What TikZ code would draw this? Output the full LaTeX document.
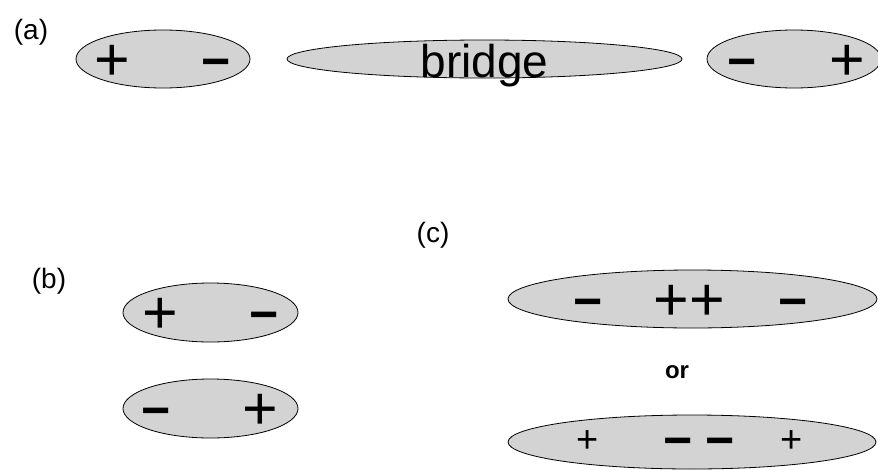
\documentclass[tikz,border=0pt]{standalone}
\usepackage{fontspec}
\setmainfont{Liberation Sans}
\usepackage{tikz}
\usetikzlibrary{shapes.geometric,calc}
\definecolor{blobgray}{HTML}{D3D3D3}

\begin{document}
\begin{tikzpicture}[x=1pt,y=-1pt,
  blob/.style={ellipse,draw=black,fill=blobgray,line width=0.8pt,inner sep=0pt},
  plusbig/.style={font=\fontsize{61}{61}\selectfont,anchor=base,inner sep=0pt},
  minusbig/.style={font=\fontsize{50}{50}\selectfont\bfseries,anchor=base,inner sep=0pt},
  plussmall/.style={font=\fontsize{38}{38}\selectfont,anchor=base,inner sep=0pt},
  lbl/.style={font=\fontsize{28}{28}\selectfont,inner sep=0pt}]
\useasboundingbox (0,0) rectangle (878,469);

% (a) two dipoles and the bridge
\node[lbl] (la) at (31,32) {(a)};
\node[blob,minimum width=174pt,minimum height=58pt] (pairL) at (163,59) {};
\node[plusbig] (pairLp) at ($(pairL.center)+(-51,21)$) {+};
\node[minusbig] (pairLm) at ($(pairL.center)+(53,19)$) {−};
\node[blob,minimum width=395pt,minimum height=38pt] (bridge) at (484.5,59) {};
\node[font=\fontsize{46}{46}\selectfont,anchor=base,inner sep=0pt] (bridgetxt) at ($(bridge.center)+(0,18)$) {bridge};
\node[blob,minimum width=174pt,minimum height=58pt] (pairR) at (794,59) {};
\node[minusbig] (pairRm) at ($(pairR.center)+(-52,19)$) {−};
\node[plusbig] (pairRp) at ($(pairR.center)+(53,21)$) {+};

% (b) stacked dipoles
\node[lbl] (lb) at (49,281) {(b)};
\node[blob,minimum width=175pt,minimum height=59pt] (bTop) at (210.5,312.5) {};
\node[plusbig] (bTopp) at ($(bTop.center)+(-50,21)$) {+};
\node[minusbig] (bTopm) at ($(bTop.center)+(54,19)$) {−};
\node[blob,minimum width=175pt,minimum height=59pt] (bBot) at (210.5,408.5) {};
\node[minusbig] (bBotm) at ($(bBot.center)+(-54,19)$) {−};
\node[plusbig] (bBotp) at ($(bBot.center)+(50,21)$) {+};

% (c) quadrupoles
\node[lbl] (lc) at (433,235) {(c)};
\node[blob,minimum width=369pt,minimum height=58pt] (cTop) at (692.5,299) {};
\node[minusbig] (cTopm1) at ($(cTop.center)+(-104,19)$) {−};
\node[plusbig] (cTopp) at ($(cTop.center)+(-3,21)$) {++};
\node[minusbig] (cTopm2) at ($(cTop.center)+(101,19)$) {−};
\node[font=\fontsize{24}{24}\selectfont\bfseries,inner sep=0pt] (orword) at (677,372) {or};
\node[blob,minimum width=368pt,minimum height=54pt] (cBot) at (692,442) {};
\node[plussmall] (cBotp1) at ($(cBot.center)+(-104,10)$) {+};
\node[minusbig] (cBotm1) at ($(cBot.center)+(-14,15)$) {−};
\node[minusbig] (cBotm2) at ($(cBot.center)+(28,15)$) {−};
\node[plussmall] (cBotp2) at ($(cBot.center)+(100,10)$) {+};
\end{tikzpicture}
\end{document}
